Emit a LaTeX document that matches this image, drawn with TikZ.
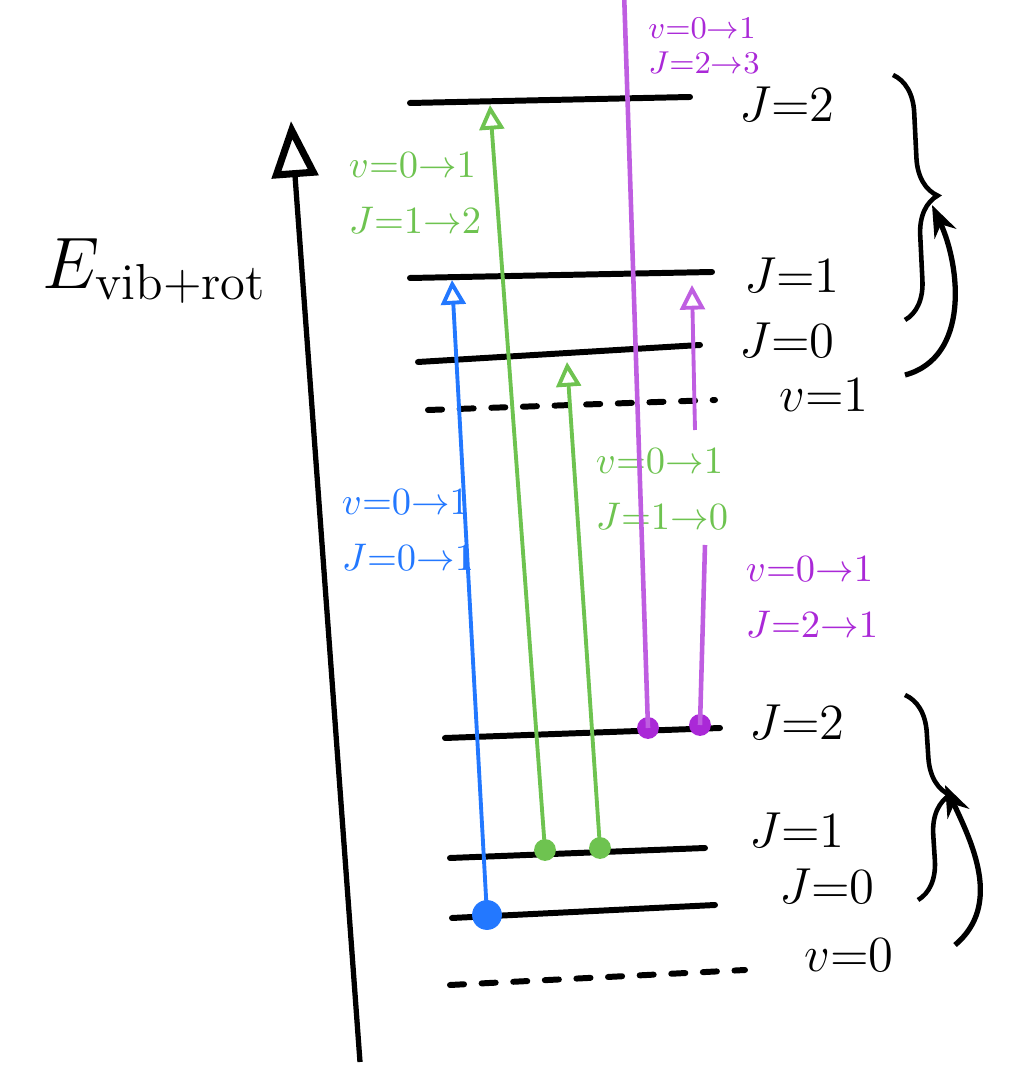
\documentclass[tikz,border=0pt]{standalone}
\usetikzlibrary{arrows.meta,decorations.pathreplacing}

\definecolor{tblue}{RGB}{35,120,255}
\definecolor{tgreen}{RGB}{110,195,80}
\definecolor{tpurple}{RGB}{170,40,215}

\begin{document}
\begin{tikzpicture}[x=0.01cm,y=0.01cm,
    lvl/.style={line width=1.7pt, line cap=round},
    dlvl/.style={lvl, dash pattern=on 4pt off 5pt},
    trans/.style={line width=1.1pt, -{Triangle[open,length=7pt,width=7pt]}},
    dot/.style={circle, fill, inner sep=2.2pt},
    jlab/.style={anchor=west, inner sep=1pt, font=\fontsize{15}{17}\selectfont},
    tlab/.style={align=left, inner sep=1pt, font=\fontsize{11}{16}\selectfont}]

    \useasboundingbox (0,0) rectangle (1024,1066);

    % energy axis
    \coordinate (ax0) at (360,4);
    \coordinate (ax1) at (291,945);
    \draw[line width=1.5pt, -{Triangle[open,length=16pt,width=13pt,line width=2pt]}] (ax0) -- (ax1);
    \node (elab) at (155,795) {\fontsize{22}{26}\selectfont $E_{\mathrm{vib+rot}}$};

    % levels
    \foreach \n/\xa/\ya/\xb/\yb in {u2/410/963/690/969, u1/410/788/712/794, u0/418/704/700/721,
                                    l2/445/328/720/338, l1/450/208/705/218, l0/452/148/715/161}
        \draw[lvl] (\xa,\ya) coordinate (\n a) -- (\xb,\yb) coordinate (\n b);
    \draw[dlvl] (428,656) coordinate (uda) -- (715,666) coordinate (udb);
    \draw[dlvl] (450,81) coordinate (lda) -- (745,96) coordinate (ldb);

    \node[jlab] (tu2) at (735,962) {$J{=}2$};
    \node[jlab] (tu1) at (740,791) {$J{=}1$};
    \node[jlab] (tu0) at (735,726) {$J{=}0$};
    \node[jlab] (tud) at (775,671) {$v{=}1$};
    \node[jlab] (tl2) at (745,344) {$J{=}2$};
    \node[jlab] (tl1) at (745,236) {$J{=}1$};
    \node[jlab] (tl0) at (775,180) {$J{=}0$};
    \node[jlab] (tld) at (800,111) {$v{=}0$};

    % braces and curved arrows
    \draw[line width=1.3pt, decorate, decoration={brace, amplitude=11pt}] (893,991) coordinate (bu0) -- (905,746) coordinate (bu1);
    \draw[line width=1.3pt, decorate, decoration={brace, amplitude=11pt}] (905,371) coordinate (bl0) -- (918,166) coordinate (bl1);
    \coordinate (cu0) at (905,691);
    \coordinate (cu1) at (932,861);
    \draw[line width=1.5pt, -{Stealth[length=9pt]}] (cu0) to[out=15,in=-65] (cu1);
    \coordinate (cl0) at (955,121);
    \coordinate (cl1) at (945,281);
    \draw[line width=1.5pt, -{Stealth[length=9pt]}] (cl0) to[out=40,in=-65] (cl1);

    % blue transition
    \node[dot, tblue, inner sep=3pt] (b0) at (487,151) {};
    \coordinate (b1) at (452,786);
    \draw[trans, tblue] (b0.center) -- (b1);
    \node[tlab, tblue] (bl) at (408,536) {$v{=}0{\to}1$\\$J{=}0{\to}1$};

    % green transitions
    \node[dot, tgreen] (g0) at (545,216) {};
    \coordinate (g1) at (490,961);
    \draw[trans, tgreen] (g0.center) -- (g1);
    \node[tlab, tgreen] (gl) at (415,873) {$v{=}0{\to}1$\\$J{=}1{\to}2$};

    \node[dot, tgreen] (h0) at (600,218) {};
    \coordinate (h1) at (567,704);
    \draw[trans, tgreen] (h0.center) -- (h1);
    \node[tlab, tgreen] (hl) at (662,577) {$v{=}0{\to}1$\\$J{=}1{\to}0$};

    % purple transitions
    \node[dot, tpurple] (p0) at (648,338) {};
    \coordinate (p1) at (624,1075);
    \draw[line width=1.3pt, tpurple!75] (p0.center) -- (p1);
    \node[tlab, tpurple, font=\fontsize{9}{10}\selectfont] (pl) at (704,1020) {$v{=}0{\to}1$\\$J{=}2{\to}3$};

    \node[dot, tpurple] (q0) at (700,341) {};
    \coordinate (q1) at (705,521);
    \coordinate (q2) at (695,636);
    \coordinate (q3) at (692,781);
    \draw[line width=1.3pt, tpurple!75] (q0.center) -- (q1);
    \draw[trans, tpurple!75] (q2) -- (q3);
    \node[tlab, tpurple] (ql) at (812,469) {$v{=}0{\to}1$\\$J{=}2{\to}1$};

\end{tikzpicture}
\end{document}
